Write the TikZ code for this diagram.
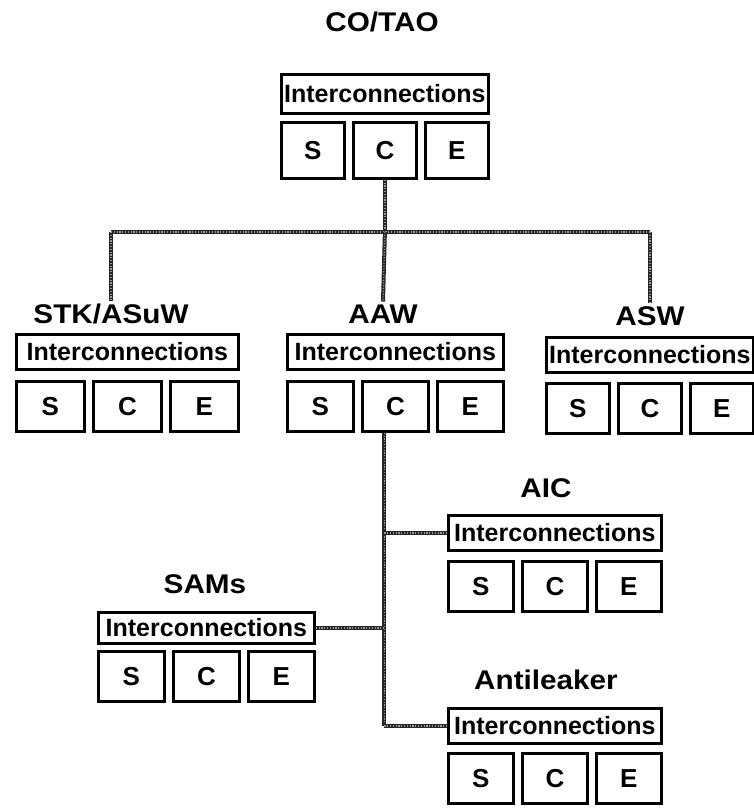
\documentclass[tikz,border=0pt]{standalone}
\usepackage{fontspec}
\setmainfont{Liberation Sans}
\newfontfamily\ttlfont{Liberation Sans}[FakeStretch=1.1]
\usetikzlibrary{calc}
\tikzset{
  ibox/.style={draw, line width=2.8pt, rectangle, inner sep=0pt, anchor=north west, font=\fontsize{25}{28}\selectfont\bfseries},
  sbox/.style={draw, line width=2.8pt, rectangle, inner sep=0pt, anchor=north west, font=\fontsize{26}{28}\selectfont\bfseries},
  ttl/.style={inner sep=3pt, font=\ttlfont\fontsize{27}{30}\selectfont\bfseries},
  link/.style={draw=black!85, line width=4pt, postaction={draw=black!40, line width=1.2pt, dash pattern=on 1.2pt off 1.6pt}}
}
% #1 name, #2 left, #3 box top, #4 width, #5 box height, #6 sce top, #7 sce height
\newcommand\modul[7]{%
  \pgfmathsetmacro\sw{(#4-18)/3}%
  \node[ibox, minimum width=#4pt, minimum height=#5pt] (#1I) at (#2,#3) {Interconnections};
  \node[sbox, minimum width=\sw pt, minimum height=#7pt] (#1S) at (#2,#6) {S};
  \node[sbox, minimum width=\sw pt, minimum height=#7pt] (#1C) at ({#2+\sw+9},#6) {C};
  \node[sbox, minimum width=\sw pt, minimum height=#7pt] (#1E) at ({#2+2*\sw+18},#6) {E};
}
\begin{document}
\begin{tikzpicture}[x=1pt,y=-1pt]
\useasboundingbox (0,0) rectangle (753,808);
% modules
\modul{cotao}{280}{73}{207}{39}{121}{56}
\modul{stk}{15}{333}{222}{35}{380}{50}
\modul{aaw}{286}{333}{216}{35}{380}{50}
\modul{asw}{545}{336}{207}{35}{382}{50}
\modul{aic}{447}{514}{213}{35}{560}{50}
\modul{sams}{97}{611}{216}{31}{650}{50}
\modul{ant}{447}{707}{213}{35}{752}{50}
% titles
\node[ttl] (cotaoT) at (382,22) {CO/TAO};
\node[ttl] (stkT) at (111,314) {STK/ASuW};
\node[ttl] (aawT) at (383,314) {AAW};
\node[ttl] (aswT) at (650,316) {ASW};
\node[ttl] (aicT) at (546,488) {AIC};
\node[ttl] (samsT) at (205,584) {SAMs};
\node[ttl] (antT) at (546,680) {Antileaker};
% bus
\coordinate (busL) at (111,232);
\coordinate (busR) at (aswT.north |- busL);
\coordinate (busM) at (cotaoC.south |- busL);
\coordinate (trunk) at ([xshift=-11pt]aawC.south);
\draw[link] (cotaoC.south) -- (busM);
\draw[link] (busL) -- (busR);
\draw[link] (busL) -- (stkT.north);
\draw[link] (busM) -- (aawT.north);
\draw[link] (busR) -- (aswT.north);
\draw[link] (trunk) -- (trunk |- antI.west);
\draw[link] (trunk |- aicI.west) -- (aicI.west);
\draw[link] (samsI.east) -- (trunk |- samsI.east);
\draw[link] (trunk |- antI.west) -- (antI.west);
\end{tikzpicture}
\end{document}
